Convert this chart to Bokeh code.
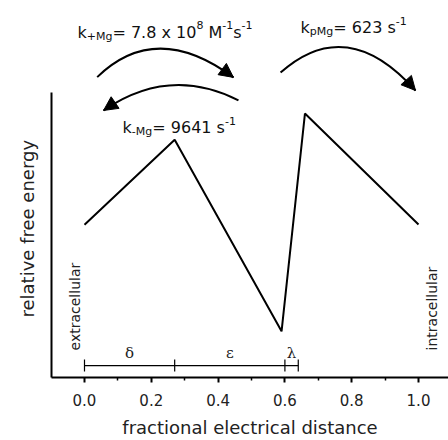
import math
from bokeh.plotting import figure
from bokeh.models import Range1d, LinearAxis, Label, Arrow, NormalHead, FixedTicker, Title
from bokeh.embed import file_html
from bokeh.resources import INLINE

# ---------------- data ----------------
distance = [0.0, 0.27, 0.59, 0.66, 1.0]          # fractional electrical distance
energy = [0.536, 0.834, 0.162, 0.926, 0.537]     # relative free energy (arb.)

segment_edges = [0.0, 0.27, 0.60, 0.64]
segment_names = ["δ", "ε", "λ"]
bar_level = 0.042

x_ticks = [0.0, 0.2, 0.4, 0.6, 0.8, 1.0]
x_tick_labels = ["0.0", "0.2", "0.4", "0.6", "0.8", "1.0"]
x_minor_ticks = [0.1, 0.3, 0.5, 0.7, 0.9]

# rate arrows: start, apex, end (tip)
arc_x0 = [0.038, 0.461, 0.587]
arc_y0 = [1.054, 0.972, 1.070]
arc_xm = [0.228, 0.257, 0.787]
arc_ym = [1.154, 1.025, 1.158]
arc_x1 = [0.446, 0.057, 0.991]
arc_y1 = [1.053, 0.937, 1.007]

rate_labels = [
    [("k", "main"), ("+Mg", "sub"), ("= 7.8 x 10", "main"), ("8", "sup"),
     (" M", "main"), ("-1", "sup"), ("s", "main"), ("-1", "sup")],
    [("k", "main"), ("pMg", "sub"), ("= 623 s", "main"), ("-1", "sup")],
    [("k", "main"), ("-Mg", "sub"), ("= 9641 s", "main"), ("-1", "sup")],
]
rate_label_x = [-0.021, 0.647, 0.114]
rate_label_y = [1.211, 1.228, 0.877]

# ---------------- styling ----------------
FONT = "DejaVu Sans"
SIZES = {"main": 16, "sub": 11, "sup": 11}
OFFS = {"main": 0, "sub": -4, "sup": 7}
ADV = {"k": .579, "+": .838, "M": .863, "g": .635, "=": .838, " ": .318,
       ".": .318, "x": .592, "s": .521, "-": .361, "p": .635}
for d in "0123456789":
    ADV[d] = .636

XPX, YPX = 334.0, 285.0  # pixels per data unit

p = figure(width=448, height=440,
           x_range=Range1d(-0.0988, 1.0898), y_range=Range1d(0, 1.3228),
           x_axis_type=None, y_axis_type=None,
           output_backend="svg", toolbar_location=None,
           min_border_left=51, min_border_right=0, min_border_top=0,
           min_border_bottom=63)
p.outline_line_color = None
p.background_fill_color = "white"
p.border_fill_color = "white"

xaxis = LinearAxis(
    ticker=FixedTicker(ticks=x_ticks, minor_ticks=x_minor_ticks),
    major_label_overrides={t: l for t, l in zip(x_ticks, x_tick_labels)},
    axis_line_width=2, axis_line_color="black",
    major_tick_in=0, major_tick_out=5, major_tick_line_width=2,
    minor_tick_in=0, minor_tick_out=3, minor_tick_line_width=1.5,
    major_label_text_font=FONT, major_label_text_font_size="15px",
    major_label_text_color="#222222", major_label_standoff=11,
    axis_label="fractional electrical distance",
    axis_label_text_font=FONT, axis_label_text_font_size="18px",
    axis_label_text_font_style="normal", axis_label_text_color="#222222",
    axis_label_standoff=8)
p.add_layout(xaxis, "below")

yaxis = LinearAxis(bounds=(0, 1), ticker=FixedTicker(ticks=[]),
                   axis_line_width=2, axis_line_color="black",
                   major_tick_out=0, major_tick_in=0,
                   minor_tick_out=0, minor_tick_in=0,
                   major_label_text_font_size="0px")
p.add_layout(yaxis, "left")

p.add_layout(Title(text="relative free energy", align="left", offset=60,
                   text_font=FONT, text_font_size="18px",
                   text_font_style="normal", text_color="#222222",
                   standoff=27), "left")

# energy profile
p.line(distance, energy, line_width=2, line_color="black")

# electrical distance scale bar
p.segment(x0=[segment_edges[0]], y0=[bar_level], x1=[segment_edges[-1]], y1=[bar_level],
          line_color="black", line_width=1.2)
tick_h = 6 / YPX
p.segment(x0=segment_edges, y0=[bar_level - tick_h] * len(segment_edges),
          x1=segment_edges, y1=[bar_level + tick_h] * len(segment_edges),
          line_color="black", line_width=1.2)
for i, name in enumerate(segment_names):
    mid = (segment_edges[i] + segment_edges[i + 1]) / 2
    p.add_layout(Label(x=mid, y=bar_level + 13 / YPX, text=name,
                       text_font="DejaVu Serif", text_font_size="15px",
                       text_align="center", text_baseline="alphabetic",
                       text_color="#222222"))

# rate arrows
cx = [2 * m - 0.5 * (a + b) for a, m, b in zip(arc_x0, arc_xm, arc_x1)]
cy = [2 * m - 0.5 * (a + b) for a, m, b in zip(arc_y0, arc_ym, arc_y1)]
p.quadratic(x0=arc_x0, y0=arc_y0, x1=arc_x1, y1=arc_y1, cx=cx, cy=cy,
            line_color="black", line_width=2)
for i in range(len(arc_x0)):
    dx = (arc_x1[i] - cx[i]) * XPX
    dy = (arc_y1[i] - cy[i]) * YPX
    n = math.hypot(dx, dy)
    sx = arc_x1[i] - dx / n * 6 / XPX
    sy = arc_y1[i] - dy / n * 6 / YPX
    p.add_layout(Arrow(end=NormalHead(size=14, fill_color="black", line_color="black"),
                       x_start=sx, y_start=sy, x_end=arc_x1[i], y_end=arc_y1[i],
                       line_alpha=0))

# rate labels with sub/superscripts
for pieces, lx, ly in zip(rate_labels, rate_label_x, rate_label_y):
    off = 0.0
    for txt, kind in pieces:
        size = SIZES[kind]
        lead = len(txt) - len(txt.lstrip(" "))
        off += lead * ADV[" "] * size
        body = txt.lstrip(" ")
        p.add_layout(Label(x=lx, y=ly, x_offset=off, y_offset=OFFS[kind], text=body,
                           text_font=FONT, text_font_size=f"{size}px",
                           text_align="left", text_baseline="alphabetic",
                           text_color="#111111"))
        off += sum(ADV.get(c, 0.6) for c in body) * size

# side labels
p.add_layout(Label(x=-0.027, y=0.095, text="extracellular", angle=math.pi / 2,
                   text_font=FONT, text_font_size="14px", text_align="left",
                   text_baseline="middle", text_color="#222222"))
p.add_layout(Label(x=1.04, y=0.095, text="intracellular", angle=math.pi / 2,
                   text_font=FONT, text_font_size="14px", text_align="left",
                   text_baseline="middle", text_color="#222222"))

open("out.html", "w").write(file_html(p, INLINE))
